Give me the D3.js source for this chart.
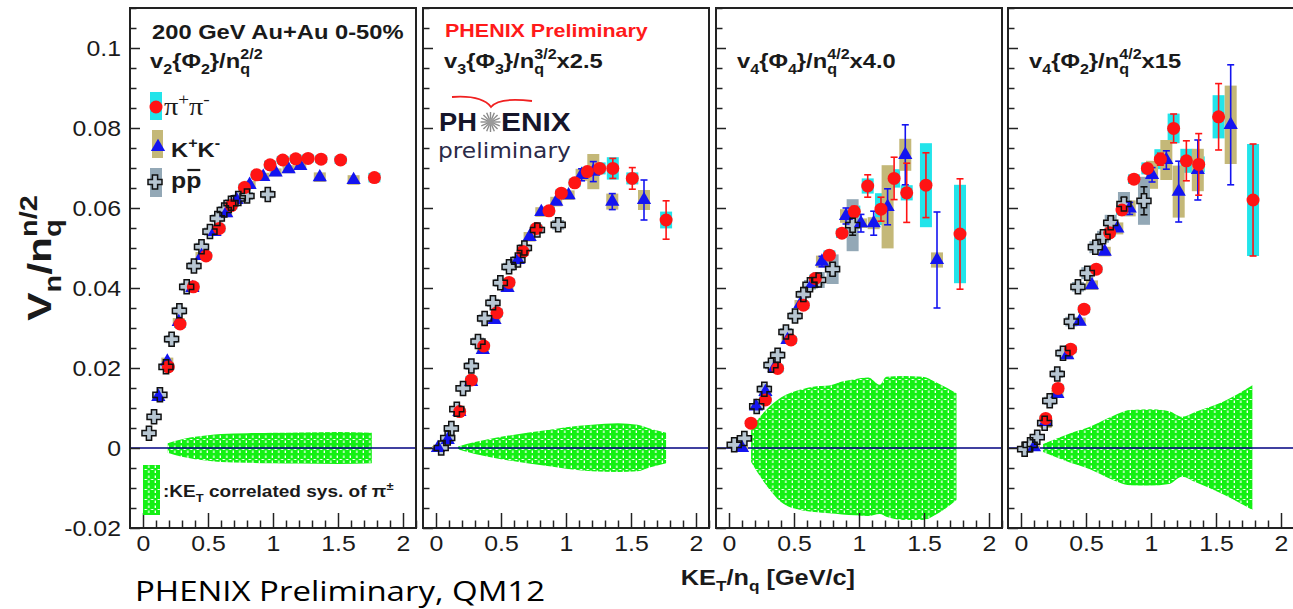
<!DOCTYPE html>
<html>
<head>
<meta charset="utf-8">
<script src="https://cdn.jsdelivr.net/npm/d3@7"></script>
<style>
  body { margin: 0; background: #fff; }
  svg { display: block; }
  text { white-space: pre; }
</style>
</head>
<body>
<div id="chart"></div>
<script>
// ---- data: [KET/nq, value, stat err, sys err] ----
// panel 1: v2{Phi2}/nq^(2/2)
var pi_v2 = [[0.195,0.0203,0,0.0008],[0.285,0.031,0,0.001],[0.387,0.0403,0,0.001],[0.485,0.048,0,0.001],[0.587,0.0549,0,0.001],[0.68,0.0606,0,0.001],[0.78,0.0651,0,0.001],[0.875,0.0683,0,0.001],[0.977,0.0708,0,0.001],[1.075,0.072,0,0.001],[1.175,0.0723,0,0.001],[1.27,0.0724,0,0.001],[1.37,0.0722,0,0.001],[1.52,0.072,0,0.001],[1.78,0.0676,0,0.0012]];
var ka_v2 = [[0.118,0.0128,0,0.001],[0.187,0.0216,0,0.001],[0.275,0.0315,0,0.001],[0.38,0.040,0,0.001],[0.45,0.048,0,0.001],[0.55,0.054,0,0.001],[0.64,0.0587,0,0.001],[0.72,0.062,0,0.001],[0.82,0.0658,0,0.001],[0.925,0.0678,0,0.001],[1.02,0.0689,0,0.001],[1.12,0.0697,0,0.001],[1.21,0.0705,0,0.001],[1.36,0.0677,0,0.0012],[1.62,0.067,0,0.0012]];
var pr_v2 = [[0.046,0.0037,0,0.0005],[0.085,0.0078,0,0.0005],[0.13,0.0133,0,0.0007],[0.177,0.0203,0,0.0008],[0.22,0.0272,0,0.001],[0.28,0.0343,0,0.001],[0.336,0.0403,0,0.001],[0.392,0.0455,0,0.001],[0.45,0.0503,0,0.001],[0.515,0.0541,0,0.001],[0.572,0.0574,0,0.001],[0.625,0.0595,0,0.001],[0.677,0.0612,0,0.001],[0.733,0.0624,0,0.001],[0.80,0.063,0,0.001],[0.96,0.0634,0,0.001]];

// panel 2: v3{Phi3}/nq^(3/2) x2.5
var pi_v3 = [[0.182,0.0091,0,0.0008],[0.272,0.017,0,0.001],[0.367,0.0255,0,0.001],[0.469,0.0338,0,0.001],[0.562,0.0414,0,0.001],[0.669,0.0491,0,0.001],[0.772,0.0549,0,0.001],[0.869,0.0593,0,0.001],[0.964,0.0637,0,0.001],[1.067,0.0663,0,0.001],[1.164,0.0691,0.0008,0.0012],[1.259,0.0699,0.001,0.0015],[1.36,0.0699,0.0025,0.0028],[1.51,0.0674,0.0027,0.0015],[1.77,0.057,0.0048,0.0021]];
var ka_v3 = [[0.015,0.0,0,0.0005],[0.09,0.002,0,0.0005],[0.18,0.009,0,0.0008],[0.27,0.0165,0,0.001],[0.36,0.0245,0,0.001],[0.45,0.032,0,0.001],[0.55,0.040,0,0.001],[0.63,0.047,0,0.001],[0.72,0.0528,0,0.0012],[0.81,0.059,0,0.0012],[0.925,0.0616,0,0.0012],[1.02,0.0632,0,0.0012],[1.12,0.0683,0.0015,0.0015],[1.21,0.0691,0.0025,0.0044],[1.356,0.0616,0.002,0.002],[1.6,0.062,0.005,0.0025]];
var pr_v3 = [[0.04,0.0,0,0.0005],[0.09,0.0025,0,0.0005],[0.118,0.0049,0,0.0005],[0.16,0.0097,0,0.0007],[0.208,0.0149,0,0.0008],[0.272,0.0205,0,0.001],[0.323,0.0266,0,0.001],[0.374,0.0324,0,0.001],[0.438,0.0363,0,0.001],[0.495,0.0413,0,0.001],[0.562,0.0453,0,0.001],[0.63,0.047,0,0.001],[0.68,0.050,0,0.001],[0.78,0.0545,0,0.001],[0.94,0.0558,0,0.0012]];

// panel 3: v4{Phi4}/nq^(4/2) x4.0
var pi_v4a = [[0.169,0.0062,0,0.0008],[0.28,0.012,0,0.001],[0.374,0.0199,0,0.001],[0.477,0.027,0,0.001],[0.572,0.0357,0,0.001],[0.664,0.0424,0,0.001],[0.772,0.0482,0.0008,0.0012],[0.869,0.0537,0,0.0012],[0.964,0.0591,0.0013,0.0015],[1.067,0.0655,0.0028,0.0019],[1.169,0.0597,0.003,0.004],[1.27,0.0674,0.0053,0.0023],[1.367,0.0638,0.0074,0.0019],[1.515,0.0657,0.0081,0.0105],[1.777,0.0535,0.0138,0.0123]];
var ka_v4a = [[0.1,0.0,0,0.0005],[0.208,0.0104,0,0.0008],[0.28,0.014,0,0.001],[0.35,0.020,0,0.001],[0.45,0.027,0,0.001],[0.55,0.036,0,0.001],[0.64,0.041,0,0.001],[0.715,0.0466,0.0013,0.0015],[0.9,0.058,0.002,0.0017],[1.015,0.0562,0.0022,0.0012],[1.113,0.0562,0.003,0.0015],[1.22,0.0603,0.0045,0.0104],[1.356,0.0733,0.0075,0.004],[1.6,0.047,0.012,0.0019]];
var pr_v4a = [[0.04,0.0008,0,0.0005],[0.118,0.0024,0,0.0005],[0.213,0.0104,0,0.0008],[0.272,0.0147,0,0.001],[0.323,0.0207,0,0.001],[0.374,0.0232,0,0.001],[0.438,0.029,0,0.001],[0.508,0.033,0,0.001],[0.572,0.0384,0,0.001],[0.623,0.0408,0,0.0012],[0.69,0.042,0.0012,0.002],[0.797,0.0447,0.0015,0.0037],[0.951,0.0557,0.0025,0.0065]];

// panel 4: v4{Phi2}/nq^(4/2) x15
var pi_v4b = [[0.19,0.0074,0,0.0008],[0.285,0.0149,0,0.001],[0.382,0.0247,0,0.001],[0.485,0.0347,0,0.001],[0.579,0.0447,0,0.001],[0.682,0.0538,0,0.001],[0.777,0.0595,0,0.0012],[0.869,0.0672,0,0.0012],[0.972,0.0699,0,0.0015],[1.072,0.0722,0.0015,0.0025],[1.174,0.0799,0.0036,0.0037],[1.272,0.0718,0.005,0.003],[1.367,0.0709,0.0077,0.002],[1.52,0.0828,0.0083,0.0054],[1.785,0.062,0.014,0.014]];
var ka_v4b = [[0.1,0.0002,0,0.0005],[0.19,0.0065,0,0.0015],[0.28,0.0135,0,0.001],[0.356,0.0232,0,0.001],[0.451,0.0316,0,0.001],[0.546,0.0407,0,0.0012],[0.644,0.0491,0,0.0012],[0.741,0.0549,0,0.0015],[0.836,0.0599,0.0015,0.002],[1.008,0.0683,0.0018,0.0035],[1.118,0.072,0.0023,0.005],[1.213,0.0641,0.0076,0.0065],[1.36,0.0695,0.0075,0.0053],[1.613,0.0808,0.015,0.0098]];
var pr_v4b = [[0.028,-0.0003,0,0.0005],[0.07,0.0008,0,0.0005],[0.125,0.0027,0,0.0006],[0.182,0.0062,0,0.0008],[0.221,0.0118,0,0.001],[0.279,0.0185,0,0.001],[0.323,0.0237,0,0.001],[0.387,0.0316,0,0.0012],[0.438,0.0403,0,0.0012],[0.51,0.0437,0,0.0015],[0.572,0.0502,0,0.0015],[0.631,0.0528,0.001,0.0015],[0.69,0.0563,0.0012,0.002],[0.792,0.061,0.0015,0.003],[0.946,0.0618,0.0035,0.006]];

// KET correlated sys. bands of pi: [x, upper, lower]
var band_v2 = [[0.19,0.0012,-0.0012],[0.3,0.0022,-0.0022],[0.4,0.0028,-0.0028],[0.5,0.0032,-0.0032],[0.6,0.0035,-0.0035],[0.8,0.0037,-0.0037],[1.0,0.0038,-0.0038],[1.2,0.0039,-0.0039],[1.5,0.004,-0.004],[1.76,0.0038,-0.0038]];
var band_v3 = [[0.17,0.0004,-0.0004],[0.3,0.0015,-0.0015],[0.5,0.0028,-0.0028],[0.7,0.0038,-0.0038],[0.9,0.0047,-0.0047],[1.0,0.0052,-0.0052],[1.2,0.0058,-0.0058],[1.4,0.0062,-0.006],[1.55,0.0058,-0.0058],[1.65,0.0048,-0.0048],[1.77,0.0038,-0.0038]];
var band_v4a = [[0.17,0.005,-0.0035],[0.28,0.0093,-0.009],[0.4,0.0126,-0.0135],[0.55,0.0146,-0.0155],[0.66,0.0154,-0.016],[0.77,0.0156,-0.0163],[0.87,0.0166,-0.0166],[0.97,0.0172,-0.0168],[1.07,0.0176,-0.017],[1.16,0.0158,-0.0165],[1.21,0.0178,-0.0172],[1.34,0.018,-0.018],[1.49,0.0178,-0.018],[1.6,0.0163,-0.0165],[1.75,0.0137,-0.013]];
var band_v4b = [[0.17,0.001,-0.001],[0.38,0.0037,-0.0037],[0.53,0.0053,-0.0053],[0.68,0.0076,-0.0076],[0.84,0.0095,-0.0093],[0.99,0.0097,-0.0094],[1.14,0.0092,-0.009],[1.24,0.0078,-0.0072],[1.34,0.009,-0.0085],[1.55,0.0115,-0.0115],[1.78,0.0157,-0.0155]];

// axes
var yMajor = [-0.02, 0, 0.02, 0.04, 0.06, 0.08, 0.1];
var yTickLabels = ["-0.02", "0", "0.02", "0.04", "0.06", "0.08", "0.1"];
var xMajor = [0, 0.5, 1, 1.5, 2];
var xTickLabels = ["0", "0.5", "1", "1.5", "2"];

// ---- layout ----
var W = 1293, H = 609;
var panelLeft = [130, 423, 716, 1008];
var panelW = 286, top0 = 8, bot0 = 528;
var SX = 1.13;                      // ROOT text looks a bit wide
var FONT = "'Liberation Sans', Arial, sans-serif";
var TXT = "#1a1a1a";
var C_PI = "#ff1414", C_KA = "#1414f0", C_PIBOX = "#22e4ea", C_KABOX = "#c4b878", C_PRBOX = "#93a8b6";

var svg = d3.select("#chart").append("svg").attr("width", W).attr("height", H)
  .attr("font-family", FONT);

var y = d3.scaleLinear().domain([-0.02, 0.11]).range([bot0, top0]);

//hatched green fill
var defs = svg.append("defs");
var pat = defs.append("pattern").attr("id", "hatch").attr("patternUnits", "userSpaceOnUse")
  .attr("width", 6.5).attr("height", 10);
pat.append("rect").attr("width", 6.5).attr("height", 10).attr("fill", "#14f014");
pat.append("rect").attr("x", 5.2).attr("y", 0.5).attr("width", 1.3).attr("height", 2.5).attr("fill", "#fff");
pat.append("rect").attr("x", 5.2).attr("y", 5.5).attr("width", 1.3).attr("height", 2.5).attr("fill", "#fff");
pat.append("rect").attr("x", 1.5).attr("y", 9).attr("width", 2.5).attr("height", 1).attr("fill", "#fff");

// rich text: segs = [text, kind]  n normal, b subscript, p superscript, P superscript stacked over last subscript
function rich(parent, x0, y0, segs, o) {
  var size = o.size, sx = o.sx || SX;
  var g = parent.append("g")
    .attr("font-family", o.family || FONT)
    .attr("font-weight", o.weight || "bold")
    .attr("fill", o.fill || TXT);
  var cx = 0, subStart = 0, subEnd = 0;
  segs.forEach(function(s) {
    var t = s[0], k = s[1];
    var fs = k === "n" ? size : size * 0.68;
    var dy = k === "b" ? size * 0.28 : (k === "p" || k === "P") ? -size * 0.42 : 0;
    var tx = k === "P" ? subStart : cx;
    var node = g.append("text").attr("x", tx).attr("y", dy).attr("font-size", fs).text(t);
    var w = node.node().getComputedTextLength();
    if (k === "b") { subStart = cx; subEnd = cx + w; cx += w; }
    else if (k === "P") { cx = Math.max(subEnd, subStart + w); }
    else cx += w;
  });
  var dx = o.anchor === "middle" ? -cx / 2 : 0;
  g.attr("transform", "translate(" + x0 + "," + y0 + ") scale(" + sx + ",1) translate(" + dx + ",0)");
  return g;
}

function crossPath(a, L) {
  return "M" + (-a) + "," + (-L) + "H" + a + "V" + (-a) + "H" + L + "V" + a + "H" + a + "V" + L +
         "H" + (-a) + "V" + a + "H" + (-L) + "V" + (-a) + "H" + (-a) + "Z";
}
var CROSS = crossPath(2.6, 7);
var tri = d3.symbol().type(d3.symbolTriangle).size(88);

var panels = [
  {pi: pi_v2, ka: ka_v2, pr: pr_v2, band: band_v2},
  {pi: pi_v3, ka: ka_v3, pr: pr_v3, band: band_v3},
  {pi: pi_v4a, ka: ka_v4a, pr: pr_v4a, band: band_v4a},
  {pi: pi_v4b, ka: ka_v4b, pr: pr_v4b, band: band_v4b}
];

panels.forEach(function(p, i) {
  var L = panelLeft[i];
  var x = d3.scaleLinear().domain([-0.1, 2.1]).range([L, L + panelW]);
  var g = svg.append("g").attr("class", "panel" + i);

  // correlated sys band
  g.append("path").datum(p.band)
    .attr("d", d3.area().x(function(d) { return x(d[0]); })
      .y0(function(d) { return y(d[2]); }).y1(function(d) { return y(d[1]); })
      .curve(d3.curveMonotoneX))
    .attr("fill", "url(#hatch)");

  g.append("line").attr("x1", L).attr("x2", L + panelW).attr("y1", y(0)).attr("y2", y(0))
    .attr("stroke", "#000080").attr("stroke-width", 1.5);

  // sys boxes
  function boxes(data, col) {
    g.append("g").selectAll("rect").data(data).enter().append("rect")
      .attr("x", function(d) { return x(d[0]) - 6; })
      .attr("width", 12)
      .attr("y", function(d) { return y(d[1] + d[3]); })
      .attr("height", function(d) { return y(d[1] - d[3]) - y(d[1] + d[3]); })
      .attr("fill", col);
  }
  boxes(p.pi, C_PIBOX);
  boxes(p.ka, C_KABOX);
  boxes(p.pr, C_PRBOX);

  function errs(data, col) {
    var eg = g.append("g").attr("stroke", col).attr("stroke-width", 1.6);
    data.filter(function(d) { return d[2] > 0; }).forEach(function(d) {
      var xx = x(d[0]), y1 = y(d[1] + d[2]), y2 = y(d[1] - d[2]);
      eg.append("line").attr("x1", xx).attr("x2", xx).attr("y1", y1).attr("y2", y2);
      eg.append("line").attr("x1", xx - 3.5).attr("x2", xx + 3.5).attr("y1", y1).attr("y2", y1);
      eg.append("line").attr("x1", xx - 3.5).attr("x2", xx + 3.5).attr("y1", y2).attr("y2", y2);
    });
  }

  // protons: filled crosses first, outline last
  errs(p.pr, "#111");
  g.append("g").selectAll("path").data(p.pr).enter().append("path")
    .attr("d", CROSS).attr("fill", "#b7c6d2")
    .attr("transform", function(d) { return "translate(" + x(d[0]) + "," + y(d[1]) + ")"; });

  errs(p.ka, C_KA);
  g.append("g").selectAll("path").data(p.ka).enter().append("path")
    .attr("d", tri).attr("fill", C_KA)
    .attr("transform", function(d) { return "translate(" + x(d[0]) + "," + y(d[1]) + ")"; });

  errs(p.pi, C_PI);
  g.append("g").selectAll("circle").data(p.pi).enter().append("circle")
    .attr("cx", function(d) { return x(d[0]); }).attr("cy", function(d) { return y(d[1]); })
    .attr("r", 6.5).attr("fill", C_PI);

  g.append("g").selectAll("path").data(p.pr).enter().append("path")
    .attr("d", CROSS).attr("fill", "none").attr("stroke", "#111").attr("stroke-width", 1.5)
    .attr("transform", function(d) { return "translate(" + x(d[0]) + "," + y(d[1]) + ")"; });

  // axes, ticks pointing inward
  var yMinor = d3.range(-0.02, 0.1101, 0.005).filter(function(v) { return Math.abs(Math.round(v / 0.02) * 0.02 - v) > 1e-6; });
  g.append("g").attr("transform", "translate(" + L + ",0)")
    .call(d3.axisLeft(y).tickValues(yMinor).tickSize(-6.5).tickFormat(""))
    .call(function(a) { a.select(".domain").remove(); a.selectAll("line").attr("stroke", "#222").attr("stroke-width", 1.5); });
  var ya = g.append("g").attr("transform", "translate(" + L + ",0)")
    .call(d3.axisLeft(y).tickValues(yMajor).tickSize(-10).tickPadding(8)
      .tickFormat(function(d, k) { return i === 0 ? yTickLabels[k] : ""; }));
  ya.select(".domain").remove();
  ya.selectAll("line").attr("stroke", "#222").attr("stroke-width", 1.5);
  ya.selectAll("text").attr("font-family", FONT).attr("font-size", 22).attr("fill", TXT)
    .attr("transform", "scale(" + SX + ",1)");

  var xMinor = d3.range(0, 2.101, 0.1).filter(function(v) { return Math.abs(Math.round(v / 0.5) * 0.5 - v) > 1e-6; });
  g.append("g").attr("transform", "translate(0," + bot0 + ")")
    .call(d3.axisBottom(x).tickValues(xMinor).tickSize(-7.5).tickFormat(""))
    .call(function(a) { a.select(".domain").remove(); a.selectAll("line").attr("stroke", "#222").attr("stroke-width", 1.5); });
  var xa = g.append("g").attr("transform", "translate(0," + bot0 + ")")
    .call(d3.axisBottom(x).tickValues(xMajor).tickSize(-15).tickPadding(7.5)
      .tickFormat(function(d, k) { return xTickLabels[k]; }));
  xa.select(".domain").remove();
  xa.selectAll("line").attr("stroke", "#222").attr("stroke-width", 1.5);
  xa.selectAll("text").attr("font-family", FONT).attr("font-size", 22).attr("fill", TXT)
    .attr("transform", "scale(" + SX + ",1)");

  g.append("rect").attr("x", L).attr("y", top0).attr("width", panelW).attr("height", bot0 - top0)
    .attr("fill", "none").attr("stroke", "#222").attr("stroke-width", 2);
});

// ---- panel texts ----
var lab = svg.append("g");
rich(lab, 152, 39, [["200 GeV Au+Au 0-50%", "n"]], {size: 21});
rich(lab, 150, 68, [["v", "n"], ["2", "b"], ["{\u03a6", "n"], ["2", "b"], ["}/n", "n"], ["q", "b"], ["2/2", "P"]], {size: 21});
rich(lab, 445, 37, [["PHENIX Preliminary", "n"]], {size: 19, fill: "#ff1a1a"});
rich(lab, 444, 68, [["v", "n"], ["3", "b"], ["{\u03a6", "n"], ["3", "b"], ["}/n", "n"], ["q", "b"], ["3/2", "P"], ["x2.5", "n"]], {size: 21});
rich(lab, 737, 68, [["v", "n"], ["4", "b"], ["{\u03a6", "n"], ["4", "b"], ["}/n", "n"], ["q", "b"], ["4/2", "P"], ["x4.0", "n"]], {size: 21});
rich(lab, 1029, 68, [["v", "n"], ["4", "b"], ["{\u03a6", "n"], ["2", "b"], ["}/n", "n"], ["q", "b"], ["4/2", "P"], ["x15", "n"]], {size: 21});

// legend, panel 1
var lg = svg.append("g");
lg.append("rect").attr("x", 150).attr("y", 92).attr("width", 12).attr("height", 28).attr("fill", C_PIBOX);
lg.append("circle").attr("cx", 156).attr("cy", 107).attr("r", 6.5).attr("fill", C_PI);
rich(lg, 164, 115, [["\u03c0", "n"], ["+", "p"], ["\u03c0", "n"], ["-", "p"]],
  {size: 25, weight: "normal", family: "'Liberation Serif', serif"});
lg.append("rect").attr("x", 152).attr("y", 130).attr("width", 11).attr("height", 28).attr("fill", C_KABOX);
lg.append("path").attr("d", tri).attr("fill", C_KA).attr("transform", "translate(158,147)");
rich(lg, 171, 157, [["K", "n"], ["+", "p"], ["K", "n"], ["-", "p"]], {size: 21});
lg.append("rect").attr("x", 150).attr("y", 168).attr("width", 12).attr("height", 29).attr("fill", C_PRBOX);
lg.append("path").attr("d", CROSS).attr("fill", "#b7c6d2").attr("stroke", "#111").attr("stroke-width", 1.5)
  .attr("transform", "translate(155,182)");
var pp = rich(lg, 171, 188, [["p", "n"], ["p", "n"]], {size: 22});
var p2 = pp.selectAll("text").nodes()[1];
var p2x = +p2.getAttribute("x"), p2w = p2.getComputedTextLength();
pp.append("line").attr("x1", p2x + 1).attr("x2", p2x + p2w - 1).attr("y1", -18).attr("y2", -18)
  .attr("stroke", TXT).attr("stroke-width", 2.2);

// sys legend, bottom of panel 1
lg.append("rect").attr("x", 143).attr("y", 465).attr("width", 17).attr("height", 50).attr("fill", "url(#hatch)");
rich(lg, 163, 497, [[":KE", "n"], ["T", "b"], [" correlated sys. of \u03c0", "n"], ["\u00b1", "p"]], {size: 17, sx: 1.12});

// PHENIX logo in panel 2
var logo = svg.append("g");
logo.append("path").attr("d", "M452,97 Q482,95 491,107 Q499,97 532,101")
  .attr("fill", "none").attr("stroke", "#f02020").attr("stroke-width", 1.8);
logo.append("text").attr("transform", "translate(439,131) scale(1.05,1)").attr("font-size", 26)
  .attr("font-weight", "bold").attr("fill", "#15152a").text("PH");
logo.append("text").attr("transform", "translate(501,131) scale(1.15,1)").attr("font-size", 26)
  .attr("font-weight", "bold").attr("fill", "#15152a").text("ENIX");
d3.range(16).forEach(function(k) {
  var a = k * Math.PI / 8;
  logo.append("line").attr("x1", 490.5 + 3 * Math.cos(a)).attr("y1", 122 + 3 * Math.sin(a))
    .attr("x2", 490.5 + 10 * Math.cos(a)).attr("y2", 122 + 10 * Math.sin(a))
    .attr("stroke", "#8a8a8a").attr("stroke-width", 1.4);
});
logo.append("circle").attr("cx", 490.5).attr("cy", 122).attr("r", 3.5).attr("fill", "#9a9a9a");
logo.append("text").attr("transform", "translate(438,158) scale(1.06,1)")
  .attr("font-family", "'DejaVu Sans', sans-serif").attr("font-size", 22)
  .attr("fill", "#2a2a48").text("preliminary");

// axis titles
var yt = svg.append("g").attr("transform", "translate(51,258) rotate(-90)");
rich(yt, 0, 0, [["V", "n"], ["n", "b"], ["/n", "n"], ["q", "b"], ["n/2", "P"]], {size: 34, sx: 1.25, anchor: "middle"});
rich(svg, 768, 585, [["KE", "n"], ["T", "b"], ["/n", "n"], ["q", "b"], ["\u00a0[GeV/c]", "n"]], {size: 22, sx: 1.15, anchor: "middle"});

svg.append("text").attr("x", 135).attr("y", 601).attr("font-family", "'Open Sans', sans-serif")
  .attr("font-size", 28).attr("fill", "#000").attr("textLength", 410).attr("lengthAdjust", "spacingAndGlyphs")
  .text("PHENIX Preliminary, QM12");
</script>
</body>
</html>
